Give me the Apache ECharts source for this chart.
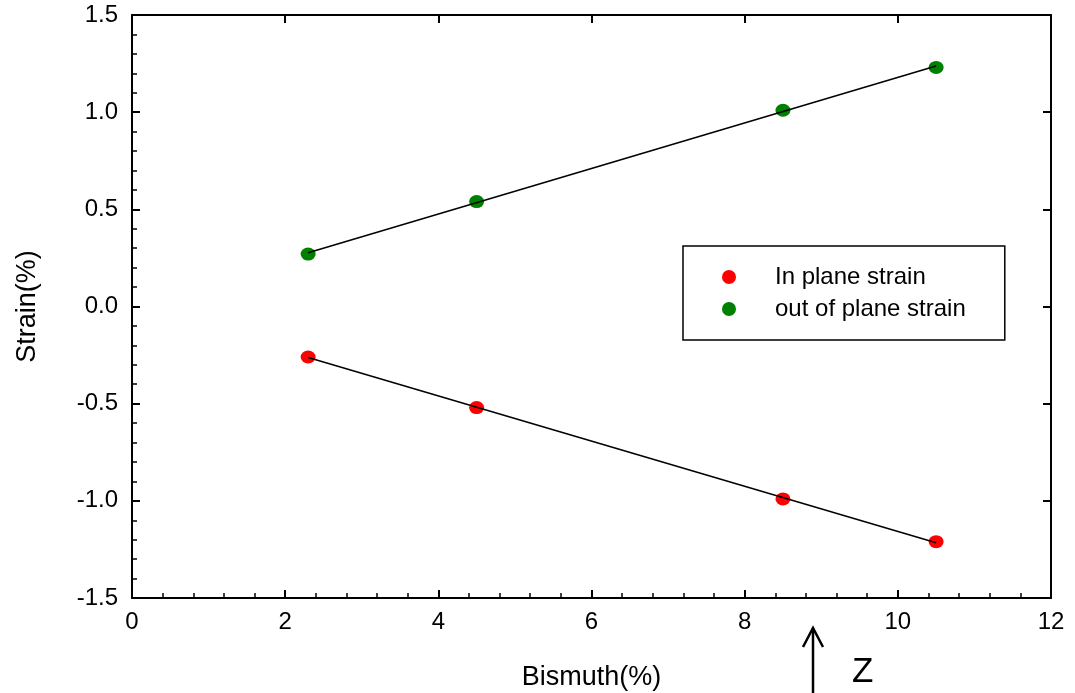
<!DOCTYPE html>
<html><head><meta charset="utf-8">
<script src="https://cdn.jsdelivr.net/npm/echarts@6/dist/echarts.min.js"></script>
<style>html,body{margin:0;padding:0;background:#fff}#c{width:1075px;height:693px}</style>
</head><body><div id="c"></div>
<script>
const bismuth = [2.3, 4.5, 8.5, 10.5];
const inPlane = [-0.26, -0.52, -0.99, -1.21];
const outPlane = [0.27, 0.54, 1.01, 1.23];
const xTicks = [0, 2, 4, 6, 8, 10, 12];
const yTicks = [-1.5, -1.0, -0.5, 0.0, 0.5, 1.0, 1.5];

function fit(xs, ys) {
  const n = xs.length;
  const mx = xs.reduce((a, b) => a + b, 0) / n;
  const my = ys.reduce((a, b) => a + b, 0) / n;
  let sxy = 0, sxx = 0;
  for (let i = 0; i < n; i++) { sxy += (xs[i] - mx) * (ys[i] - my); sxx += (xs[i] - mx) ** 2; }
  const b = sxy / sxx, a = my - b * mx;
  const x0 = Math.min(...xs), x1 = Math.max(...xs);
  return [[x0, a + b * x0], [x1, a + b * x1]];
}
const pts = (xs, ys) => xs.map((x, i) => [x, ys[i]]);

const FONT = 'Liberation Sans, Arial, sans-serif';
const chart = echarts.init(document.getElementById('c'), null, { renderer: 'canvas' });
const axLine = { show: true, onZero: false, lineStyle: { color: '#000', width: 2 } };
const majTick = { inside: true, length: 8, lineStyle: { color: '#000', width: 2 } };
const minTick = { show: true, splitNumber: 5, length: 5, lineStyle: { color: '#000', width: 1.5 } };
chart.setOption({
  animation: false,
  grid: { left: 132, right: 24, top: 15, bottom: 95, containLabel: false, outerBoundsMode: 'none' },
  xAxis: [
    { type: 'value', min: xTicks[0], max: xTicks[xTicks.length - 1], interval: 2, position: 'bottom',
      axisLine: axLine, axisTick: majTick, minorTick: minTick, splitLine: { show: false },
      axisLabel: { color: '#000', fontSize: 24, fontFamily: FONT, margin: 12 },
      name: 'Bismuth(%)', nameLocation: 'middle', nameGap: 66,
      nameTextStyle: { color: '#000', fontSize: 27, fontFamily: FONT } },
    { type: 'value', min: 0, max: 12, interval: 2, position: 'top',
      axisLine: axLine, axisTick: majTick, axisLabel: { show: false }, splitLine: { show: false } }
  ],
  yAxis: [
    { type: 'value', min: yTicks[0], max: yTicks[yTicks.length - 1], interval: 0.5, position: 'left',
      axisLine: axLine, axisTick: majTick, minorTick: minTick, splitLine: { show: false },
      axisLabel: { color: '#000', fontSize: 24, fontFamily: FONT, margin: 14,
        formatter: v => v.toFixed(1) },
      name: 'Strain(%)', nameLocation: 'middle', nameGap: 91,
      nameTextStyle: { color: '#000', fontSize: 27, fontFamily: FONT } },
    { type: 'value', min: -1.5, max: 1.5, interval: 0.5, position: 'right',
      axisLine: axLine, axisTick: majTick, axisLabel: { show: false }, splitLine: { show: false } }
  ],
  legend: {
    left: 683, top: 246, orient: 'vertical', itemGap: 8,
    padding: [19, 39, 19, 39], itemWidth: 14, itemHeight: 14,
    borderColor: '#000', borderWidth: 1.5, backgroundColor: '#fff', borderRadius: 0,
    textStyle: { color: '#000', fontSize: 24, fontFamily: FONT, padding: [0, 0, 0, 34] },
    data: [{ name: 'In plane strain', icon: 'circle' }, { name: 'out of plane strain', icon: 'circle' }]
  },
  series: [
    { type: 'line', data: fit(bismuth, inPlane), symbol: 'none', lineStyle: { color: '#000', width: 1.5 }, silent: true, z: 3 },
    { type: 'line', data: fit(bismuth, outPlane), symbol: 'none', lineStyle: { color: '#000', width: 1.5 }, silent: true, z: 3 },
    { name: 'In plane strain', type: 'scatter', data: pts(bismuth, inPlane), symbol: 'circle', symbolSize: [15, 13],
      itemStyle: { color: '#ff0000', opacity: 1 }, z: 2 },
    { name: 'out of plane strain', type: 'scatter', data: pts(bismuth, outPlane), symbol: 'circle', symbolSize: [15, 13],
      itemStyle: { color: '#008000', opacity: 1 }, z: 2 }
  ],
  graphic: [
    { type: 'line', shape: { x1: 813, y1: 693, x2: 813, y2: 628 }, style: { stroke: '#000', lineWidth: 2.5 } },
    { type: 'polyline', shape: { points: [[803, 647], [813, 628], [823, 647]] }, style: { stroke: '#000', lineWidth: 2.5, fill: null } },
    { type: 'text', x: 852, y: 655, style: { text: 'Z', fill: '#000', fontSize: 35, fontFamily: FONT } }
  ]
});
</script></body></html>
